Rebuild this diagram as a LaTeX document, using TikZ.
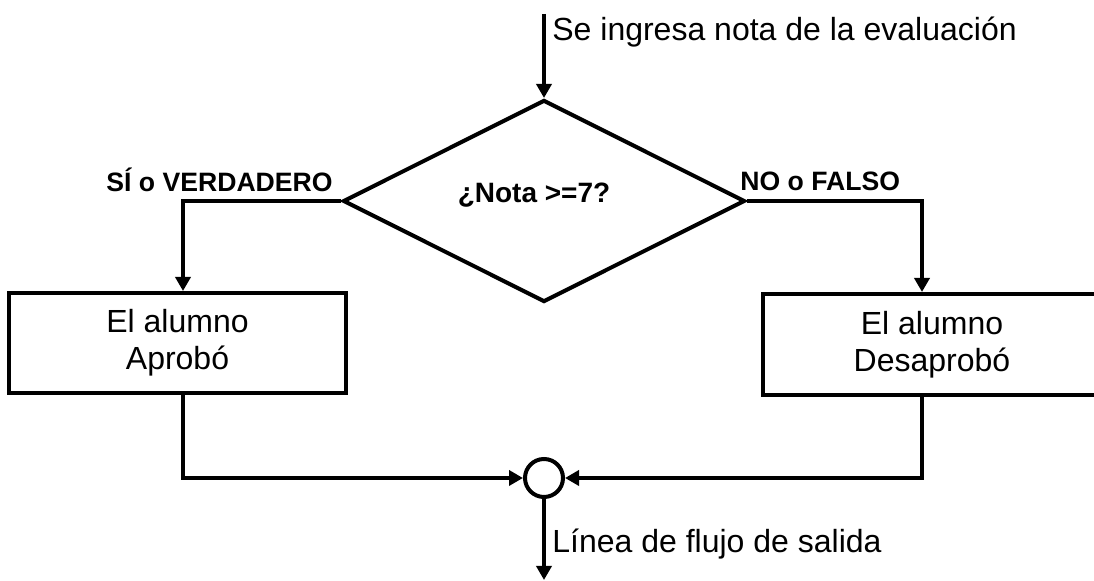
\documentclass[tikz,border=0pt]{standalone}
\usepackage{fontspec}
\setmainfont{Liberation Sans}
\usetikzlibrary{positioning,shapes.geometric,arrows.meta,calc}
\tikzset{
  decis/.style={
  diamond,draw=black,line width=2pt,aspect=2,inner sep=0pt,minimum width=201pt,minimum height=101pt
  },
  proc/.style={
  rectangle,draw=black,line width=2pt,align=center,font=\fontsize{16}{18.5}\selectfont
  },
  conect/.style={
  circle,draw=black,line width=2pt,inner sep=0pt,minimum size=19pt
  },
  line/.style={draw, line width=2pt, -{Triangle[length=7pt,width=7.5pt]}},
  etiq/.style={inner sep=0pt,font=\fontsize{16}{18.5}\selectfont},
  etiqb/.style={inner sep=0pt,font=\fontsize{13.3}{15}\selectfont\bfseries}
}
\begin{document}
\begin{tikzpicture}[x=0.5pt,y=-0.5pt]
    \useasboundingbox (0,0) rectangle (1094,581);
    \clip (0,0) rectangle (1094,581);

    \coordinate (ini) at (544,14);
    \node[decis] (cond) at (544,201) {};
    \node[inner sep=0pt,font=\fontsize{14}{16}\selectfont\bfseries,anchor=base] (condtxt) at (534,203) {¿Nota >=7?};

    \node[proc,minimum width=168.5pt,minimum height=50pt] (aprob) at (177.5,343) {El alumno\\ Aprobó};
    \node[proc,minimum width=169pt,minimum height=50.5pt] (desap) at (932,344.5) {El alumno\\ Desaprobó};

    \node[conect] (union) at (544,478) {};
    \coordinate (fin) at (544,580);

    \node[etiq,anchor=base west] (entra) at (552,41) {Se ingresa nota de la evaluación};
    \node[etiq,anchor=base west] (sale) at (552,553) {Línea de flujo de salida};
    \node[etiqb,anchor=base east] (verd) at (333,192) {SÍ o VERDADERO};
    \node[etiqb,anchor=base west] (fals) at (740,191) {NO o FALSO};

    \begin{scope} [every path/.style=line]
      \path (ini) -- (cond.north);
      \path (cond.west) -| ([xshift=2.75pt]aprob.north);
      \path (cond.east) -| ([xshift=-5pt]desap.north);
      \path ([xshift=2.75pt]aprob.south) |- (union.west);
      \path ([xshift=-5pt]desap.south) |- (union.east);
      \path (union.south) -- (fin);
    \end{scope}

  \end{tikzpicture}
\end{document}
